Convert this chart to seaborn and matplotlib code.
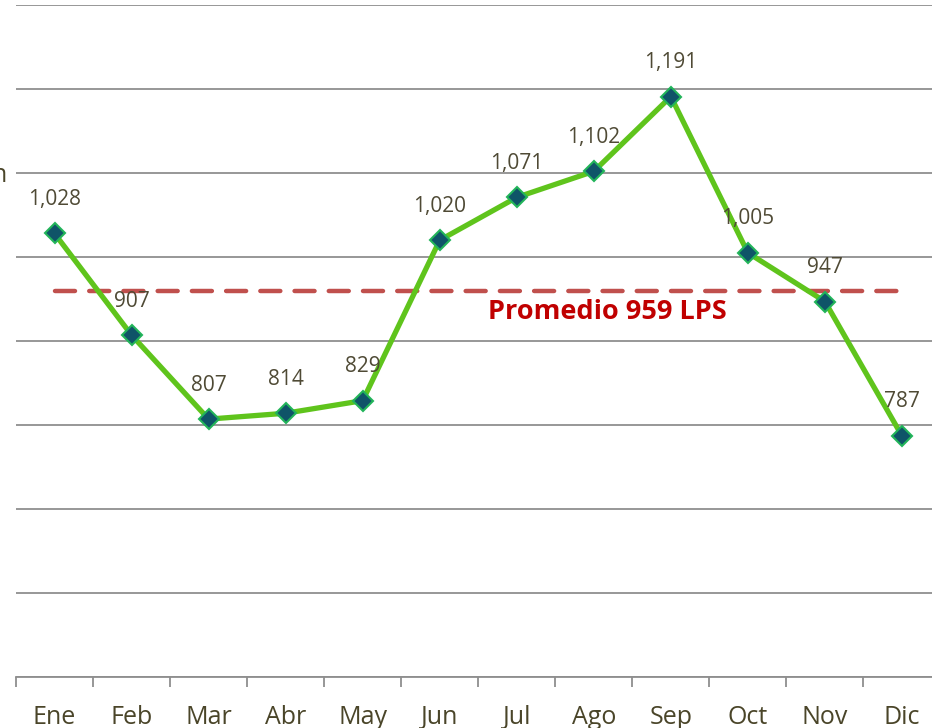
import matplotlib
matplotlib.use("Agg")
import matplotlib.pyplot as plt
import seaborn as sns
import pandas as pd

sns.set_theme(style="white")
plt.rcParams['font.family'] = ['Open Sans', 'DejaVu Sans']

# Data
months = ["Ene", "Feb", "Mar", "Abr", "May", "Jun", "Jul", "Ago", "Sep", "Oct", "Nov", "Dic"]
values = [1028, 907, 807, 814, 829, 1020, 1071, 1102, 1191, 1005, 947, 787]
average = 959
avg_label = "Promedio 959 LPS"

df = pd.DataFrame({"idx": range(len(months)), "month": months, "value": values})

fig = plt.figure(figsize=(9.32, 7.28), dpi=100)
ax = fig.add_axes([16 / 932, 51 / 728, 916 / 932, 672 / 728])

sns.lineplot(x="idx", y="value", data=df, ax=ax, color="#5fc41c", linewidth=3.8,
             marker="D", markersize=10, markerfacecolor="#0f5468",
             markeredgecolor="#22b45a", markeredgewidth=1.5, zorder=3)

# Average line
ax.hlines(average, 0, len(months) - 1, colors="#c0504d", linestyles=(0, (4.5, 3.2)),
          linewidth=3.2, zorder=2, capstyle="round")
ax.text(7.18, 934, avg_label, color="#c00000", fontsize=19.5, fontweight="bold",
        ha="center", va="center", zorder=4)

# Data labels
for i, v in enumerate(values):
    ax.annotate(f"{v:,}", (i, v), xytext=(0, 24.5), textcoords="offset points",
                ha="center", va="center", fontsize=15, color="#4f4a35", zorder=4)

ax.set_yticks(range(500, 1301, 100))
ax.yaxis.grid(True, color="#8f8f8f", linewidth=1.3)
ax.set_yticklabels([])
ax.tick_params(axis="y", length=0)

ax.set_xticks(range(len(months)))
ax.set_xticklabels(months, fontsize=18, color="#4a4529")
ax.set_xticks([i - 0.5 for i in range(len(months) + 1)], minor=True)
ax.tick_params(axis="x", which="major", length=0, pad=20)
ax.tick_params(axis="x", which="minor", bottom=True, length=7, width=1.3,
               color="#8f8f8f", direction="out")
ax.set_xlabel("")
ax.set_ylabel("")

ax.set_ylim(500, 1300)
ax.set_xlim(-0.5, (932 - 55) / 77)

for side in ["top", "right", "left"]:
    ax.spines[side].set_visible(False)
ax.spines["bottom"].set_color("#8f8f8f")
ax.spines["bottom"].set_linewidth(1.3)

# cropped fragment of the axis title at the left edge
fig.text(7 / 932, 1 - 175 / 728, "n", ha="right", va="center", fontsize=18, color="#4a4529")

plt.savefig("out.png", dpi=100)
